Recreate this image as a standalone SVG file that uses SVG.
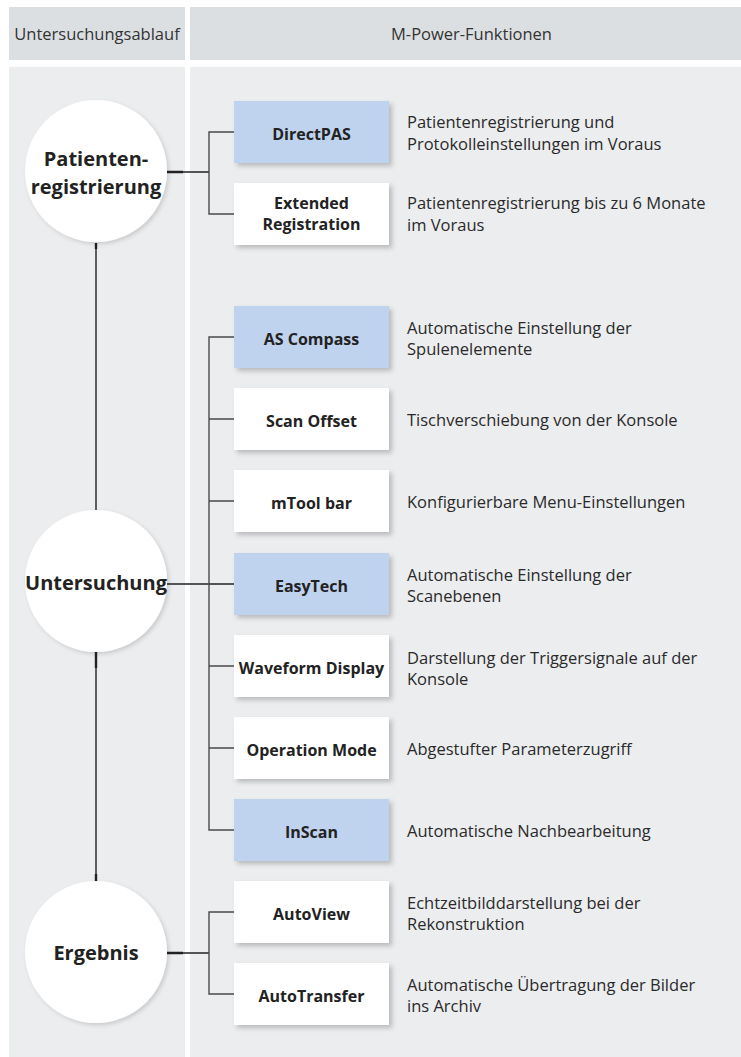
<svg xmlns="http://www.w3.org/2000/svg" width="741" height="1057" viewBox="0 0 741 1057">
<defs>
<filter id="sh" x="-10%" y="-10%" width="130%" height="140%">
<feDropShadow dx="3" dy="3" stdDeviation="2.5" flood-color="#000" flood-opacity="0.22"/>
</filter>
<filter id="csh" x="-10%" y="-10%" width="125%" height="125%">
<feDropShadow dx="2" dy="2" stdDeviation="2" flood-color="#000" flood-opacity="0.15"/>
</filter>
</defs>
<style>
.hd{fill:#dcdfe2}
.bd{fill:#ecedef}
.ht{font-family:"Open Sans","Liberation Sans",sans-serif;font-size:16.5px;fill:#333;text-anchor:middle}
.box{filter:url(#sh)}
.blue{fill:#bfd3ee}
.white{fill:#ffffff}
.bl{font-family:"Open Sans","Liberation Sans",sans-serif;font-size:16px;font-weight:bold;fill:#222;text-anchor:middle}
.ds{font-family:"Open Sans","Liberation Sans",sans-serif;font-size:16.5px;fill:#2a2a2a}
.circ{fill:#fff;filter:url(#csh)}
.ct{font-family:"Open Sans","Liberation Sans",sans-serif;font-size:20px;font-weight:bold;fill:#222;text-anchor:middle}
.ln{stroke:#4a4a4a;stroke-width:1.4;fill:none}
.lk{stroke:#222;stroke-width:1.4;fill:none}
.lt{stroke:#222;stroke-width:2.4;fill:none}
</style>
<rect width="741" height="1057" fill="#fff"/>
<g id="background">
<rect class="hd" x="9" y="7" width="176" height="53"/>
<rect class="hd" x="190" y="7" width="551" height="53"/>
<rect class="bd" x="9" y="67" width="176" height="990"/>
<rect class="bd" x="190" y="67" width="551" height="990"/>
<text class="ht" x="97" y="39.5">Untersuchungsablauf</text>
<text class="ht" x="471.5" y="39.5">M-Power-Funktionen</text>
</g>
<g id="connectors">
<path class="lk" d="M96 243V510M96 652V881"/>
<path class="lt" d="M96 243V249M96 652V668M96 874V881"/>
<path class="lk" d="M167 172H209M167 584H234M167 953H209"/>
<path class="lt" d="M167 172H183M167 953H183"/>
<path class="ln" d="M234 132H209V214H234"/>
<path class="ln" d="M234 337H209V830H234M209 419H234M209 501H234M209 666H234M209 748H234"/>
<path class="ln" d="M234 912H209V994H234"/>
</g>
<g id="patientenregistrierung">
<circle class="circ" cx="96" cy="171" r="71"/>
<text class="ct" x="96" y="166">Patienten-</text>
<text class="ct" x="96" y="194">registrierung</text>
</g>
<g id="untersuchung">
<circle class="circ" cx="96" cy="581" r="71"/>
<text class="ct" x="96" y="590">Untersuchung</text>
</g>
<g id="ergebnis">
<circle class="circ" cx="96" cy="952" r="71"/>
<text class="ct" x="96" y="960">Ergebnis</text>
</g>
<g id="directpas">
<rect class="box blue" x="234" y="101" width="155" height="62"/>
<text class="bl" x="311.5" y="139.5">DirectPAS</text>
<text class="ds" x="407" y="128">Patientenregistrierung und</text>
<text class="ds" x="407" y="149.5">Protokolleinstellungen im Voraus</text>
</g>
<g id="extended-registration">
<rect class="box white" x="234" y="183" width="155" height="62"/>
<text class="bl" x="311.5" y="208.5">Extended</text>
<text class="bl" x="311.5" y="230">Registration</text>
<text class="ds" x="407" y="209">Patientenregistrierung bis zu 6 Monate</text>
<text class="ds" x="407" y="230.5">im Voraus</text>
</g>
<g id="as-compass">
<rect class="box blue" x="234" y="306" width="155" height="62"/>
<text class="bl" x="311.5" y="344.5">AS Compass</text>
<text class="ds" x="407" y="334">Automatische Einstellung der</text>
<text class="ds" x="407" y="355">Spulenelemente</text>
</g>
<g id="scan-offset">
<rect class="box white" x="234" y="388" width="155" height="62"/>
<text class="bl" x="311.5" y="426.5">Scan Offset</text>
<text class="ds" x="407" y="426">Tischverschiebung von der Konsole</text>
</g>
<g id="mtool-bar">
<rect class="box white" x="234" y="470" width="155" height="62"/>
<text class="bl" x="311.5" y="508.5">mTool bar</text>
<text class="ds" x="407" y="508">Konfigurierbare Menu-Einstellungen</text>
</g>
<g id="easytech">
<rect class="box blue" x="234" y="553" width="155" height="62"/>
<text class="bl" x="311.5" y="591.5">EasyTech</text>
<text class="ds" x="407" y="581">Automatische Einstellung der</text>
<text class="ds" x="407" y="602">Scanebenen</text>
</g>
<g id="waveform-display">
<rect class="box white" x="234" y="635" width="155" height="62"/>
<text class="bl" x="311.5" y="673.5">Waveform Display</text>
<text class="ds" x="407" y="664">Darstellung der Triggersignale auf der</text>
<text class="ds" x="407" y="685">Konsole</text>
</g>
<g id="operation-mode">
<rect class="box white" x="234" y="717" width="155" height="62"/>
<text class="bl" x="311.5" y="755.5">Operation Mode</text>
<text class="ds" x="407" y="755">Abgestufter Parameterzugriff</text>
</g>
<g id="inscan">
<rect class="box blue" x="234" y="799" width="155" height="62"/>
<text class="bl" x="311.5" y="837.5">InScan</text>
<text class="ds" x="407" y="837">Automatische Nachbearbeitung</text>
</g>
<g id="autoview">
<rect class="box white" x="234" y="881" width="155" height="62"/>
<text class="bl" x="311.5" y="919.5">AutoView</text>
<text class="ds" x="407" y="909">Echtzeitbilddarstellung bei der</text>
<text class="ds" x="407" y="930">Rekonstruktion</text>
</g>
<g id="autotransfer">
<rect class="box white" x="234" y="963" width="155" height="62"/>
<text class="bl" x="311.5" y="1001.5">AutoTransfer</text>
<text class="ds" x="407" y="991">Automatische Übertragung der Bilder</text>
<text class="ds" x="407" y="1012">ins Archiv</text>
</g>
</svg>
